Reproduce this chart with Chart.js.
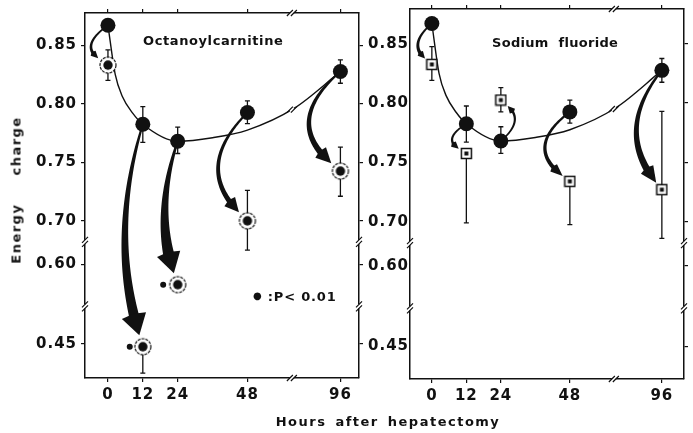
<!DOCTYPE html>
<html>
<head>
<meta charset="utf-8">
<script src="https://cdn.jsdelivr.net/npm/chart.js@4.4.1/dist/chart.umd.min.js"></script>
<style>
body { margin: 0; background: #fff; width: 693px; height: 433px; overflow: hidden; position: relative; font-family: "DejaVu Sans", sans-serif; color: #111; }
canvas { position: absolute; top: 0; }
#left { left: 0; }
#right { left: 368px; }
.lbl { position: absolute; white-space: nowrap; font-size: 13px; font-weight: bold; line-height: 1; }
</style>
</head>
<body>
<canvas id="left" width="368" height="433"></canvas>
<canvas id="right" width="325" height="433"></canvas>

<div class="lbl" style="left:16px; top:190px; transform:translate(-50%,-50%) rotate(-90deg); letter-spacing:1.5px; word-spacing:22px;">Energy charge</div>
<div class="lbl" style="left:388px; top:421px; transform:translate(-50%,-50%); letter-spacing:1.5px; word-spacing:3px;">Hours after hepatectomy</div>
<div class="lbl" style="left:143px; top:40px; transform:translateY(-50%); letter-spacing:0.6px;">Octanoylcarnitine</div>
<div class="lbl" style="left:492px; top:42px; transform:translateY(-50%); letter-spacing:0.3px; word-spacing:5px;">Sodium fluoride</div>
<div class="lbl" style="left:253px; top:296px; transform:translateY(-50%); letter-spacing:0.8px;"><span style="font-size:10px; vertical-align:2px;">●</span> :P&lt; 0.01</div>

<script>
// hours after hepatectomy
const HOURS = [0, 12, 24, 48, 96];

// control (filled circles) with SE ends
const CONTROL = [0.867, 0.7825, 0.768, 0.7925, 0.8275];
const CONTROL_HI = [null, 0.7975, 0.780, 0.8025, 0.8375];
const CONTROL_LO = [null, 0.767, 0.7575, 0.783, 0.8175];

// drawn curve through controls
const CURVE_HOURS = [0, 2.5, 5, 8.5, 12, 24, 36, 48, 72, 96];
const CURVE_VALUES = [0.867, 0.825, 0.806, 0.792, 0.7825, 0.768, 0.771, 0.7775, 0.796, 0.8275];

// octanoylcarnitine
const OCT = [0.833, 0.4475, 0.5825, 0.700, 0.7425];
const OCT_HI = [0.846, null, null, 0.726, 0.763];
const OCT_LO = [0.820, 0.425, null, 0.675, 0.721];

// sodium fluoride
const NAF = [0.8325, 0.7575, 0.8025, 0.734, 0.727];
const NAF_HI = [0.8475, null, 0.813, null, 0.793];
const NAF_LO = [0.819, 0.699, 0.7925, 0.6975, 0.686];

// P < 0.01 dots
const SIG_HOURS = [7.5, 19];
const SIG_VALUES = [0.4475, 0.5825];

const Y_TICKS = [0.85, 0.80, 0.75, 0.70, 0.60, 0.45];
const Y_LABELS = ['0.85', '0.80', '0.75', '0.70', '0.60', '0.45'];
const X_TICKS = [0, 12, 24, 48, 96];
const X_LABELS = ['0', '12', '24', '48', '96'];

// broken axes: map real values onto the drawn axis
function toAxisY(v)
{
    if (v === null) return null;
    if (v >= 0.65) return v;
    if (v >= 0.52) return v + 0.063;
    return v + 0.145;
}

function toAxisX(h)
{
    return h <= 48 ? h : 48 + (h - 48) * 2 / 3;
}

const Y_BREAKS = [0.682, 0.627];
const X_BREAK = 63.3;

function ringMarker()
{
    const c = document.createElement('canvas');
    c.width = 20; c.height = 20;
    const g = c.getContext('2d');
    g.fillStyle = '#fff';
    g.beginPath(); g.arc(10, 10, 8, 0, Math.PI * 2); g.fill();
    g.strokeStyle = '#111'; g.lineWidth = 1.2; g.setLineDash([3, 1]);
    g.stroke();
    g.setLineDash([]);
    g.fillStyle = '#111';
    g.beginPath(); g.arc(10, 10, 4.7, 0, Math.PI * 2); g.fill();
    return c;
}

function squareMarker()
{
    const c = document.createElement('canvas');
    c.width = 13; c.height = 13;
    const g = c.getContext('2d');
    g.fillStyle = '#fff'; g.fillRect(1, 1, 11, 11);
    g.strokeStyle = '#111'; g.lineWidth = 1.5; g.strokeRect(1.5, 1.5, 10, 10);
    g.fillStyle = '#111'; g.fillRect(4.5, 4.5, 4, 4);
    return c;
}

const PANELS =
{
    left:
    {
        values: OCT, hi: OCT_HI, lo: OCT_LO, marker: ringMarker(), gap: 12,
        sig: SIG_HOURS.map((h, i) => ({ x: toAxisX(h), y: toAxisY(SIG_VALUES[i]) })),
        yMin: 0.5658, yMax: 0.8775, xMin: -7.9, xMax: 86.4,
        yWidth: 85, padTop: 0, xHeight: 55, yTickLen: 4, yPad: 4,
        arrows:
        [
            { i: 0, bend: 28, w0: 1.5, w1: 3, len: 7, hw: 7 },
            { i: 1, bend: 34, w0: 2, w1: 10, len: 20, hw: 25 },
            { i: 2, bend: 24, w0: 2, w1: 11, len: 20, hw: 24 },
            { i: 3, bend: 54, w0: 2, w1: 5, len: 14, hw: 14 },
            { i: 4, bend: 58, w0: 2, w1: 6, len: 15, hw: 15 }
        ]
    },
    right:
    {
        values: NAF, hi: NAF_HI, lo: NAF_LO, marker: squareMarker(), gap: 9,
        sig: [],
        yMin: 0.5675, yMax: 0.8792, xMin: -7.6, xMax: 87.7,
        yWidth: 42, padTop: 1, xHeight: 54, yTickLen: 1, yPad: 0,
        arrows:
        [
            { i: 0, bend: 24, w0: 1.5, w1: 3.5, len: 7, hw: 7 },
            { i: 1, bend: 24, w0: 1.5, w1: 2.5, len: 7, hw: 7 },
            { i: 2, bend: 24, w0: 1.5, w1: 2.5, len: 7, hw: 7 },
            { i: 3, bend: 46, w0: 2, w1: 4, len: 12, hw: 10 },
            { i: 4, bend: 48, w0: 2, w1: 7, len: 16, hw: 15 }
        ]
    }
};

function drawErrorBar(ctx, x, yc, hi, lo, py)
{
    [hi, lo].forEach(v =>
    {
        if (v === null) return;
        const ye = py(v);
        ctx.beginPath();
        ctx.moveTo(x, yc); ctx.lineTo(x, ye);
        ctx.moveTo(x - 2.5, ye); ctx.lineTo(x + 2.5, ye);
        ctx.stroke();
    });
}

// tapered curved arrow, bulging to the side of the travel direction
function drawArrow(ctx, p0, p2, a, gap)
{
    const dx = p2.x - p0.x, dy = p2.y - p0.y, d = Math.hypot(dx, dy);
    const c = { x: (p0.x + p2.x) / 2 - dy / d * a.bend, y: (p0.y + p2.y) / 2 + dx / d * a.bend };
    const ex = p2.x - c.x, ey = p2.y - c.y, el = Math.hypot(ex, ey);
    const tip = { x: p2.x - ex / el * gap, y: p2.y - ey / el * gap };

    const q = t => ({
        x: (1 - t) * (1 - t) * p0.x + 2 * (1 - t) * t * c.x + t * t * tip.x,
        y: (1 - t) * (1 - t) * p0.y + 2 * (1 - t) * t * c.y + t * t * tip.y
    });

    let tb = 1;
    for (let t = 1; t > 0; t -= 0.002)
    {
        const p = q(t);
        if (Math.hypot(p.x - tip.x, p.y - tip.y) >= a.len) { tb = t; break; }
    }

    const n = 50, side1 = [], side2 = [];
    for (let k = 0; k <= n; k++)
    {
        const t = tb * k / n;
        const p = q(t);
        const tx = 2 * (1 - t) * (c.x - p0.x) + 2 * t * (tip.x - c.x);
        const ty = 2 * (1 - t) * (c.y - p0.y) + 2 * t * (tip.y - c.y);
        const tl = Math.hypot(tx, ty);
        const w = (a.w0 + (a.w1 - a.w0) * k / n) / 2;
        side1.push({ x: p.x - ty / tl * w, y: p.y + tx / tl * w });
        side2.push({ x: p.x + ty / tl * w, y: p.y - tx / tl * w });
    }

    ctx.beginPath();
    side1.forEach((p, k) => k ? ctx.lineTo(p.x, p.y) : ctx.moveTo(p.x, p.y));
    side2.reverse().forEach(p => ctx.lineTo(p.x, p.y));
    ctx.closePath();
    ctx.fill();

    const b = q(tb);
    const hx = tip.x - b.x, hy = tip.y - b.y, hl = Math.hypot(hx, hy);
    const ox = -hy / hl * a.hw / 2, oy = hx / hl * a.hw / 2;
    ctx.beginPath();
    ctx.moveTo(tip.x, tip.y);
    ctx.lineTo(b.x + ox, b.y + oy);
    ctx.lineTo(b.x - hx / hl * 2, b.y - hy / hl * 2);
    ctx.lineTo(b.x - ox, b.y - oy);
    ctx.closePath();
    ctx.fill();
}

function slash(ctx, x, y, vertical)
{
    ctx.fillStyle = '#fff';
    ctx.fillRect(x - 2, y - 2, 4, 4);
    ctx.beginPath();
    [-2, 2].forEach(o =>
    {
        if (vertical)
        {
            ctx.moveTo(x - 3, y + o + 3); ctx.lineTo(x + 3, y + o - 3);
        }
        else
        {
            ctx.moveTo(x + o - 3, y + 3); ctx.lineTo(x + o + 3, y - 3);
        }
    });
    ctx.stroke();
}

const panelMarks =
{
    id: 'panelMarks',
    beforeDraw(chart)
    {
        chart.ctx.letterSpacing = '1px';
    },
    beforeDatasetsDraw(chart)
    {
        const cfg = PANELS[chart.canvas.id];
        const ctx = chart.ctx, x = chart.scales.x, y = chart.scales.y;
        const px = h => x.getPixelForValue(toAxisX(h));
        const py = v => y.getPixelForValue(toAxisY(v));

        ctx.save();
        ctx.strokeStyle = '#111';
        ctx.fillStyle = '#111';
        ctx.lineWidth = 1.3;
        HOURS.forEach((h, i) =>
        {
            drawErrorBar(ctx, px(h), py(CONTROL[i]), CONTROL_HI[i], CONTROL_LO[i], py);
            drawErrorBar(ctx, px(h), py(cfg.values[i]), cfg.hi[i], cfg.lo[i], py);
        });
        cfg.arrows.forEach(a =>
        {
            const h = HOURS[a.i];
            drawArrow(ctx, { x: px(h), y: py(CONTROL[a.i]) }, { x: px(h), y: py(cfg.values[a.i]) }, a, cfg.gap);
        });
        ctx.restore();
    },
    afterDraw(chart)
    {
        const ctx = chart.ctx, area = chart.chartArea;
        const x = chart.scales.x, y = chart.scales.y;

        ctx.save();
        ctx.strokeStyle = '#111';
        ctx.lineWidth = 1.2;
        Y_BREAKS.forEach(v =>
        {
            const yy = y.getPixelForValue(v);
            slash(ctx, area.left, yy, true);
            slash(ctx, area.right, yy, true);
        });
        const xx = x.getPixelForValue(X_BREAK);
        slash(ctx, xx, area.bottom, false);
        slash(ctx, xx, area.top, false);

        const line = chart.getDatasetMeta(2).dataset;
        const p = line.interpolate({ x: xx }, 'x');
        if (p && !Array.isArray(p)) slash(ctx, xx, p.y, false);
        ctx.restore();
    }
};

Chart.defaults.font.family = '"DejaVu Sans", sans-serif';
Chart.defaults.font.size = 15;
Chart.defaults.font.weight = 'bold';
Chart.defaults.color = '#111';

function makePanel(id)
{
    const cfg = PANELS[id];
    const point = (h, v) => ({ x: toAxisX(h), y: toAxisY(v) });
    const yTicks = scale => { scale.ticks = Y_TICKS.map(v => ({ value: toAxisY(v) })); };
    const xTicks = scale => { scale.ticks = X_TICKS.map(h => ({ value: toAxisX(h) })); };
    const grid = { drawOnChartArea: false, tickLength: 4, color: '#111', lineWidth: 1.2 };
    const border = { display: true, color: '#111', width: 1.5 };

    return new Chart(document.getElementById(id),
    {
        type: 'scatter',
        data:
        {
            datasets:
            [
                {
                    data: HOURS.map((h, i) => point(h, CONTROL[i])),
                    pointStyle: 'circle', pointRadius: 7.5,
                    backgroundColor: '#111', borderWidth: 0, order: 1
                },
                {
                    data: HOURS.map((h, i) => point(h, cfg.values[i])),
                    pointStyle: cfg.marker, pointRadius: 8, order: 2
                },
                {
                    data: CURVE_HOURS.map((h, i) => point(h, CURVE_VALUES[i])),
                    showLine: true, pointRadius: 0, borderColor: '#111', borderWidth: 1.4,
                    cubicInterpolationMode: 'monotone', order: 4
                },
                {
                    data: cfg.sig,
                    pointStyle: 'circle', pointRadius: 3,
                    backgroundColor: '#111', borderWidth: 0, order: 3
                }
            ]
        },
        options:
        {
            responsive: false,
            animation: false,
            events: [],
            layout: { padding: { top: cfg.padTop, left: 0, right: 0, bottom: 0 } },
            plugins: { legend: { display: false }, tooltip: { enabled: false } },
            scales:
            {
                x:
                {
                    type: 'linear', position: 'bottom', min: cfg.xMin, max: cfg.xMax,
                    afterBuildTicks: xTicks,
                    afterFit: s => { s.height = cfg.xHeight; },
                    ticks: { callback: (v, i) => X_LABELS[i], padding: 4, maxRotation: 0, autoSkip: false },
                    grid: grid, border: border
                },
                x2:
                {
                    type: 'linear', position: 'top', min: cfg.xMin, max: cfg.xMax,
                    afterBuildTicks: xTicks,
                    afterFit: s => { s.height = 4; },
                    ticks: { display: false },
                    grid: grid, border: border
                },
                y:
                {
                    type: 'linear', position: 'left', min: cfg.yMin, max: cfg.yMax,
                    afterBuildTicks: yTicks,
                    afterFit: s => { s.width = cfg.yWidth; },
                    ticks: { callback: (v, i) => Y_LABELS[i], padding: cfg.yPad, autoSkip: false },
                    grid: Object.assign({}, grid, { tickLength: cfg.yTickLen }), border: border
                },
                y2:
                {
                    type: 'linear', position: 'right', min: cfg.yMin, max: cfg.yMax,
                    afterBuildTicks: yTicks,
                    afterFit: s => { s.width = id === 'left' ? 8 : 7; },
                    ticks: { display: false },
                    grid: grid, border: border
                }
            }
        },
        plugins: [panelMarks]
    });
}

makePanel('left');
makePanel('right');
</script>
</body>
</html>
